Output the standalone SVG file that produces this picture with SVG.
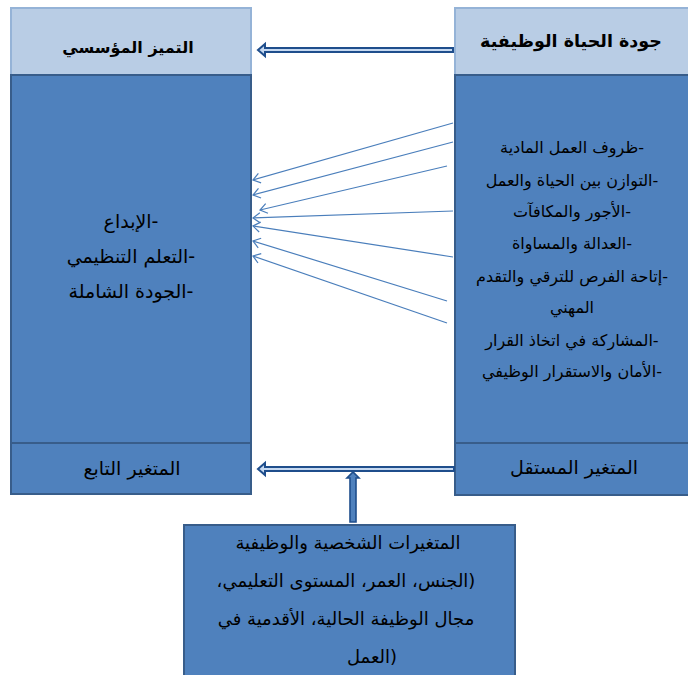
<svg xmlns="http://www.w3.org/2000/svg" width="688" height="675" viewBox="0 0 688 675">
<style>
.hdr{fill:#B9CDE5;stroke:#95B3D7;stroke-width:2}
.body{fill:#4F81BD;stroke:#385D8A;stroke-width:2}
text{font-family:"DejaVu Sans",sans-serif;fill:#000;text-anchor:middle}
.h{font-weight:bold}
.t{font-size:16px}
.l{font-size:19px}
.b{font-size:18px}
.thin{stroke:#4A7EBB;stroke-width:1.2;fill:none;marker-end:url(#open)}
.dbl{fill:#C6D9F1;stroke:#1F4E8C;stroke-width:2}
</style>
<defs>
<marker id="open" markerWidth="12" markerHeight="12" refX="8" refY="6" orient="auto" markerUnits="userSpaceOnUse">
<path d="M1,1 L8,6 L1,11" fill="none" stroke="#4A7EBB" stroke-width="1.2"/>
</marker>
</defs>
<rect width="688" height="675" fill="#fff"/>
<g id="dependent">
<rect class="hdr" x="11" y="8" width="240" height="67"/>
<rect class="body" x="11" y="75" width="240" height="368"/>
<rect class="body" x="11" y="443" width="240" height="51"/>
<text class="h" x="128" y="53" font-size="16" direction="rtl">التميز المؤسسي</text>
<text class="l" x="131" y="228" direction="rtl">-الإبداع</text>
<text class="l" x="131" y="263" direction="rtl">-التعلم التنظيمي</text>
<text class="l" x="131" y="298" direction="rtl">-الجودة الشاملة</text>
<text class="l" x="132" y="475" direction="rtl">المتغير التابع</text>
</g>
<g id="independent">
<rect class="hdr" x="455" y="8" width="245" height="67"/>
<rect class="body" x="455" y="75" width="245" height="368"/>
<rect class="body" x="455" y="443" width="245" height="52"/>
<text class="h" x="571" y="47" font-size="17.5" direction="rtl">جودة الحياة الوظيفية</text>
<text class="t" x="572" y="153" direction="rtl">-ظروف العمل المادية</text>
<text class="t" x="572" y="186" direction="rtl">-التوازن بين الحياة والعمل</text>
<text class="t" x="572" y="217" direction="rtl">-الأجور والمكافآت</text>
<text class="t" x="572" y="249" direction="rtl">-العدالة والمساواة</text>
<text class="t" x="572" y="282" direction="rtl">-إتاحة الفرص للترقي والتقدم</text>
<text class="t" x="572" y="313" direction="rtl">المهني</text>
<text class="t" x="572" y="346" direction="rtl">-المشاركة في اتخاذ القرار</text>
<text class="t" x="572" y="377" direction="rtl">-الأمان والاستقرار الوظيفي</text>
<text class="l" x="574" y="474" font-size="18" direction="rtl">المتغير المستقل</text>
</g>
<g id="moderator">
<rect class="body" x="184" y="525" width="331" height="160"/>
<text class="b" x="348" y="549" direction="rtl">المتغيرات الشخصية والوظيفية</text>
<text class="b" x="346" y="587" direction="rtl">(الجنس، العمر، المستوى التعليمي،</text>
<text class="b" x="346" y="625" direction="rtl">مجال الوظيفة الحالية، الأقدمية في</text>
<text class="b" x="372" y="663" direction="ltr">العمل)</text>
</g>
<g id="connectors">
<path class="dbl" d="M453,48 L265,48 L265,44 L258,50 L265,56 L265,52 L453,52 Z"/>
<path class="dbl" d="M454,467 L265,467 L265,463 L258,469 L265,475 L265,471 L454,471 Z"/>
<path d="M350,522 L350,478 L347,478 L353,472 L359,478 L356,478 L356,522 Z" fill="#4F81BD" stroke="#1F4E8C" stroke-width="1.6"/>
<line class="thin" x1="453" y1="123" x2="253" y2="180"/>
<line class="thin" x1="453" y1="142" x2="253" y2="195"/>
<line class="thin" x1="447" y1="166" x2="260" y2="210"/>
<line class="thin" x1="453" y1="211" x2="253" y2="218"/>
<line class="thin" x1="453" y1="257" x2="253" y2="226"/>
<line class="thin" x1="447" y1="301" x2="253" y2="241"/>
<line class="thin" x1="447" y1="323" x2="253" y2="256"/>
</g>
</svg>
